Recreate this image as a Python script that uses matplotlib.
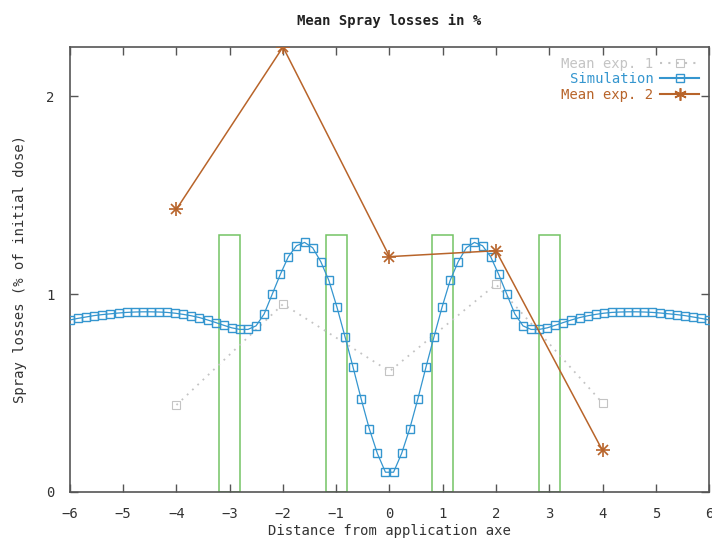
import numpy as np
import matplotlib
matplotlib.use("Agg")
import matplotlib.pyplot as plt
from matplotlib.lines import Line2D
from matplotlib.patches import Rectangle

# ---- data ----
exp_x = [-4, -2, 0, 2, 4]
mean_exp1 = [0.44, 0.95, 0.61, 1.05, 0.45]
mean_exp2 = [1.43, 2.25, 1.19, 1.22, 0.21]

sim_x = np.linspace(-6, 6, 80)
sim_left = [0.870, 0.878, 0.885, 0.892, 0.897, 0.901, 0.905, 0.908, 0.910, 0.911,
            0.911, 0.910, 0.908, 0.904, 0.898, 0.891, 0.882, 0.870, 0.857, 0.843,
            0.830, 0.822, 0.822, 0.840, 0.900, 1.000, 1.100, 1.190, 1.245, 1.262,
            1.235, 1.165, 1.070, 0.935, 0.785, 0.630, 0.470, 0.320, 0.195, 0.100]
sim_right = [0.100, 0.195, 0.320, 0.470, 0.630, 0.785, 0.935, 1.070, 1.165, 1.235,
             1.262, 1.245, 1.190, 1.100, 1.000, 0.900, 0.840, 0.822, 0.822, 0.830,
             0.843, 0.857, 0.870, 0.882, 0.891, 0.898, 0.904, 0.908, 0.910, 0.911,
             0.911, 0.910, 0.908, 0.905, 0.901, 0.897, 0.892, 0.885, 0.878, 0.870]
simulation = sim_left + sim_right

box_left = [-3.2, -1.2, 0.8, 2.8]
box_width = 0.4
box_height = 1.3

title = "Mean Spray losses in %"
xlabel = "Distance from application axe"
ylabel = "Spray losses (% of initial dose)"
xticks = list(range(-6, 7))
yticks = [0, 1, 2]

# ---- style ----
font = "DejaVu Sans Mono"
c_sim = "#3596cf"
c_exp2 = "#b8642a"
c_exp1 = "#c4c4c4"
c_box = "#74c364"
c_axis = "#555555"

fig = plt.figure(figsize=(7.12, 5.44), dpi=100)
ax = fig.add_axes([0.0983, 0.0956, 0.8975, 0.818])

for bl in box_left:
    ax.add_patch(Rectangle((bl, 0), box_width, box_height, fill=False,
                           edgecolor=c_box, linewidth=1.1, zorder=1))

ax.plot(exp_x, mean_exp1, linestyle=(0, (1, 3)), color=c_exp1, linewidth=1.3,
        marker="s", markersize=6, markerfacecolor="none", markeredgecolor=c_exp1,
        markeredgewidth=0.8, zorder=2)
ax.plot(sim_x, simulation, color=c_sim, linewidth=0.9, marker="s", markersize=5.5,
        markerfacecolor="none", markeredgecolor=c_sim, markeredgewidth=1.0, zorder=3)
ax.plot(exp_x, mean_exp2, color=c_exp2, linewidth=1.1, zorder=4)
ax.plot(exp_x, mean_exp2, linestyle="none", marker="+", markersize=10,
        markeredgecolor=c_exp2, markeredgewidth=1.2, zorder=5)
ax.plot(exp_x, mean_exp2, linestyle="none", marker="x", markersize=7,
        markeredgecolor=c_exp2, markeredgewidth=1.2, zorder=5)

ax.set_xlim(-6, 6)
ax.set_ylim(0, 2.25)
ax.set_xticks(xticks)
ax.set_xticklabels([("\u2212%d" % -t) if t < 0 else str(t) for t in xticks],
                   fontsize=10, family=font, color="#333333")
ax.set_yticks(yticks)
ax.set_yticklabels([str(t) for t in yticks], fontsize=10, family=font, color="#333333")
ax.tick_params(direction="in", length=6, width=1, color=c_axis, top=True, right=True,
               pad=11)
for s in ax.spines.values():
    s.set_color(c_axis)
    s.set_linewidth(1.2)

ax.set_title(title, fontsize=10, family=font, color="#222222", pad=16, fontweight="bold")
ax.set_xlabel(xlabel, fontsize=10, family=font, color="#333333", labelpad=2)
ax.set_ylabel(ylabel, fontsize=10, family=font, color="#333333", labelpad=14)

handles = [
    Line2D([], [], linestyle=(0, (1, 3)), color=c_exp1, marker="s", markersize=6,
           markerfacecolor="none", markeredgewidth=0.8),
    Line2D([], [], color=c_sim, marker="s", markersize=5.5, markerfacecolor="none"),
    Line2D([], [], color=c_exp2, marker=(6, 2, 0), markersize=9, markeredgewidth=1.2),
]
labels = ["Mean exp. 1", "Simulation", "Mean exp. 2"]
leg = ax.legend(handles, labels, loc="upper right", markerfirst=False, frameon=False,
                prop={"family": font, "size": 10}, handlelength=2.8,
                labelspacing=0.1, borderaxespad=0.3, handletextpad=0.5)
for txt, c in zip(leg.get_texts(), [c_exp1, c_sim, c_exp2]):
    txt.set_color(c)
    txt.set_ha("right")

fig.savefig("out.png", dpi=100)
